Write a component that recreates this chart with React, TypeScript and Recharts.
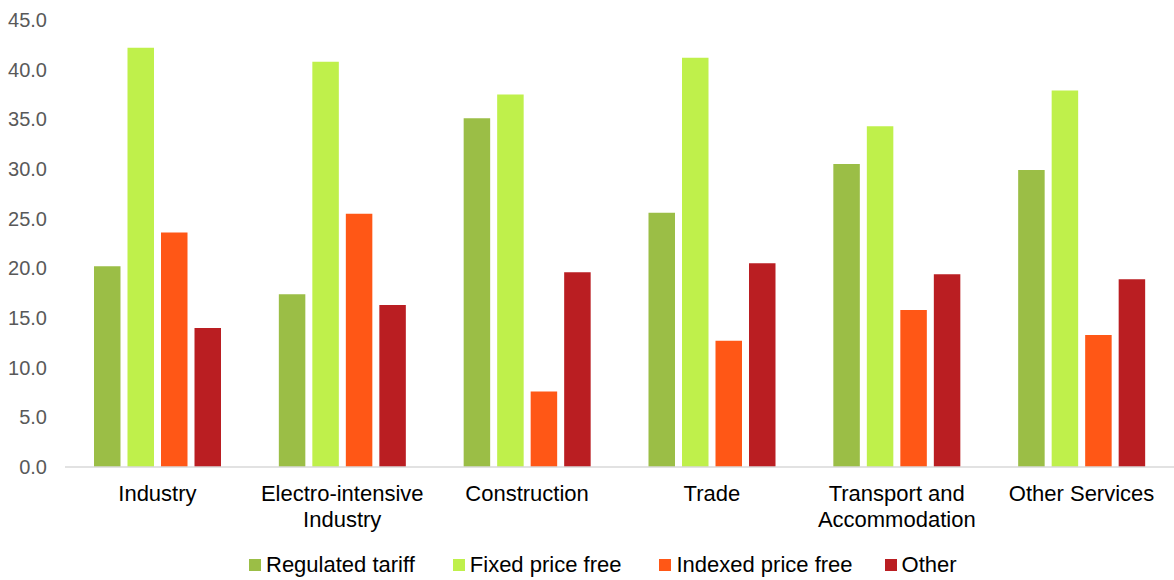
import React from "react";
import { BarChart, Bar, XAxis, YAxis, Legend } from "recharts";

const categories = [
  "Industry",
  "Electro-intensive Industry",
  "Construction",
  "Trade",
  "Transport and Accommodation",
  "Other Services",
];
const regulatedTariff = [20.2, 17.4, 35.1, 25.6, 30.5, 29.9];
const fixedPriceFree = [42.2, 40.8, 37.5, 41.2, 34.3, 37.9];
const indexedPriceFree = [23.6, 25.5, 7.6, 12.7, 15.8, 13.3];
const other = [14.0, 16.3, 19.6, 20.5, 19.4, 18.9];
const yTicks = [0, 5, 10, 15, 20, 25, 30, 35, 40, 45];

const seriesNames = ["Regulated tariff", "Fixed price free", "Indexed price free", "Other"];
const seriesKeys = ["reg", "fixed", "indexed", "other"];
const seriesColors = ["#9BBE46", "#BFF04B", "#FF5716", "#BA1E22"];

const data = categories.map((c, i) => ({
  name: c,
  reg: regulatedTariff[i],
  fixed: fixedPriceFree[i],
  indexed: indexedPriceFree[i],
  other: other[i],
}));

const FONT = "'Liberation Sans', Arial, sans-serif";

function wrapLabel(s: string, maxChars: number): string[] {
  const words = s.split(" ");
  const lines: string[] = [];
  let cur = "";
  for (const w of words) {
    const next = cur ? cur + " " + w : w;
    if (next.length > maxChars && cur) {
      lines.push(cur);
      cur = w;
    } else {
      cur = next;
    }
  }
  if (cur) lines.push(cur);
  return lines;
}

const XTick = (props: any) => {
  const { x, y, payload } = props;
  const lines = wrapLabel(String(payload.value), 18);
  return (
    <text
      x={x}
      y={y + 34}
      textAnchor="middle"
      fontSize={22}
      fontFamily={FONT}
      fill="#000000"
    >
      {lines.map((l, i) => (
        <tspan key={i} x={x} dy={i === 0 ? 0 : 26}>
          {l}
        </tspan>
      ))}
    </text>
  );
};

const LegendContent = () => (
  <div
    style={{
      display: "flex",
      paddingLeft: 249,
      fontFamily: FONT,
      fontSize: 22,
      color: "#000",
      alignItems: "center",
      lineHeight: "26px",
      height: 26,
    }}
  >
    {seriesNames.map((n, i) => (
      <div key={n} style={{ display: "flex", alignItems: "center", marginRight: i === 2 ? 32 : 38 }}>
        <span
          style={{
            display: "inline-block",
            width: 12,
            height: 12,
            background: seriesColors[i],
            marginRight: 5,
          }}
        />
        <span>{n}</span>
      </div>
    ))}
  </div>
);

export default function App() {
  return (
    <div style={{ width: 1174, height: 580, background: "#fff", position: "relative" }}>
      <style>{`body{margin:0;}`}</style>
      <BarChart
        width={1174}
        height={580}
        data={data}
        margin={{ top: 20, right: 0, bottom: 0, left: 0 }}
        barSize={26.5}
        barGap={7}
      >
        <XAxis
          dataKey="name"
          tick={<XTick />}
          tickLine={false}
          tickSize={0}
          tickMargin={0}
          interval={0}
          axisLine={{ stroke: "#D9D9D9", strokeWidth: 1.5 }}
          height={87}
        />
        <YAxis
          domain={[0, 45]}
          ticks={yTicks}
          tickFormatter={(v: number) => v.toFixed(1)}
          axisLine={false}
          tickLine={false}
          tickSize={0}
          tickMargin={18}
          width={65}
          tick={{ fontSize: 20, fill: "#595959", fontFamily: FONT }}
          interval={0}
        />
        <Legend
          content={<LegendContent />}
          wrapperStyle={{ position: "absolute", top: 552, left: 0, width: 1174, height: 26 }}
        />
        {seriesKeys.map((k, i) => (
          <Bar key={k} dataKey={k} name={seriesNames[i]} fill={seriesColors[i]} isAnimationActive={false} />
        ))}
      </BarChart>
    </div>
  );
}
